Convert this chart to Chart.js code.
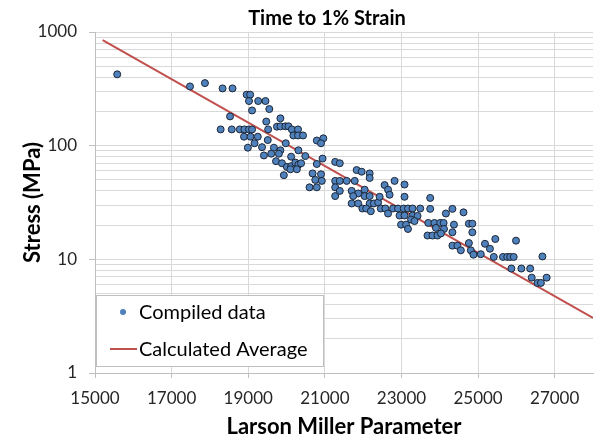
<!DOCTYPE html>
<html>
<head>
<meta charset="utf-8">
<script src="https://cdn.jsdelivr.net/npm/chart.js@4.4.1/dist/chart.umd.min.js"></script>
<style>
  html, body { margin: 0; padding: 0; background: #fff; }
  canvas { display: block; }
</style>
</head>
<body>
<canvas id="myChart" width="598" height="439"></canvas>
<script>
// scatter points (Larson Miller Parameter, Stress MPa)
const lmpValues = [
  15580, 17480, 17870, 18330, 18590, 18960, 19050, 19020, 19260, 19450,
  19550, 19100, 18525, 19470, 19750, 18280, 18570, 18780, 18900, 19020,
  19100, 19520, 18890, 19060, 19250, 19510, 19165, 19360, 18990, 19670,
  19410, 19600, 19725,
  19840, 19840, 19970, 20050, 20140, 20300, 20180, 20300, 20430, 19840,
  19980, 19800, 19880, 20010, 20120, 20230, 20310, 20120, 20100, 20270,
  20380, 20490, 19930, 20310, 20790, 20960, 20900, 20940, 20790, 20680,
  20900, 20750, 20600, 20790, 20920, 21270, 21390, 21270, 21390, 21570,
  21270, 21270, 21390, 21830, 21960, 22170, 22170, 21780, 21700, 21870,
  21740, 22040, 21700, 21870, 22040, 22170, 22170, 22560, 22650, 22690,
  22820,
  21980, 22080, 22200, 22280, 22390, 22430, 23080, 23080, 22460, 22580,
  22780, 22910, 23060, 23170, 23290, 23490, 22650, 22950, 23080, 23290,
  23420, 23250, 23340, 22990, 23120, 23170, 23750, 23750, 23700, 23860,
  24010, 24100, 23900, 24110, 23680, 23810, 23940, 24030, 24370, 24330,
  24160, 24330, 24620, 24760, 24850, 24850, 24330, 24460, 24550, 24760,
  24810, 24880, 25070, 25180, 25310, 25410, 25450,
  25650, 25760, 25840, 25930, 25870, 26130, 26360, 25990, 26400, 26550,
  26640, 26790, 26680
];
const stressValues = [
  424, 332, 355, 319, 319, 281, 281, 247, 247, 247,
  210, 204, 181, 163, 147, 139, 139, 139, 139, 139,
  139, 139, 120, 120, 120, 112, 105, 97, 96, 96,
  82, 85, 73,
  174, 148, 148, 148, 139, 139, 123, 123, 123, 91,
  105, 85, 70, 65, 66, 71, 68, 80, 62, 62,
  70, 81, 55, 91, 111, 116, 105, 77, 69, 57,
  56, 50, 43, 43, 49, 72, 70, 49, 49, 49,
  43, 36, 40, 61, 59, 57, 52, 49, 40, 38,
  36, 41, 31, 31, 36, 36, 31, 45, 41, 37,
  49,
  28, 28, 26.5, 31, 31.7, 35.5, 45.5, 35.5, 28, 28,
  28, 28, 28, 28, 28, 28, 25.3, 24.3, 24.3, 24.3,
  24.1, 22.4, 21.7, 20.2, 20.2, 18.5, 34.7, 27.8, 20.9, 20.9,
  20.9, 20.9, 18.9, 18.5, 16.2, 16.2, 16.2, 16.9, 20.2, 17.3,
  25.3, 27.8, 25.9, 20.6, 20.6, 17.3, 13.2, 13.2, 12.0, 13.9,
  12.0, 11.0, 11.1, 13.7, 12.4, 10.5, 15.1,
  10.5, 10.5, 10.5, 10.5, 8.3, 8.3, 8.3, 14.6, 6.9, 6.2,
  6.2, 6.9, 10.6
];

// calculated average line end points
const avgLmp = [15200, 28000];
const avgStress = [850, 3.06];

const xTickValues = [15000, 17000, 19000, 21000, 23000, 25000, 27000];
const yGridValues = [1, 2, 3, 4, 5, 6, 7, 8, 9, 10, 20, 30, 40, 50, 60, 70, 80, 90,
  100, 200, 300, 400, 500, 600, 700, 800, 900, 1000];
const yTickLabels = [1, 10, 100, 1000];

const FONT = "Lato, 'Open Sans', sans-serif";

const titlePlugin = {
  id: 'plainTitle',
  afterDraw(chart) {
    const c = chart.ctx;
    c.save();
    c.font = "bold 20px " + FONT;
    c.fillStyle = '#000';
    c.textAlign = 'center';
    c.textBaseline = 'middle';
    c.fillText('Time to 1% Strain', 327, 19);
    c.restore();
  }
};

const boxLegend = {
  id: 'boxLegend',
  afterDraw(chart) {
    const c = chart.ctx;
    const ds = chart.data.datasets;
    c.save();
    c.fillStyle = '#fff';
    c.strokeStyle = '#bfbfbf';
    c.lineWidth = 1;
    c.fillRect(96, 295, 227, 71);
    c.strokeRect(96.5, 295.5, 227, 71);
    c.font = "20px " + FONT;
    c.textBaseline = 'middle';
    // scatter entry
    c.beginPath();
    c.arc(123, 312, 3, 0, Math.PI * 2);
    c.fillStyle = ds[0].backgroundColor;
    c.fill();
    c.fillStyle = '#000';
    c.fillText(ds[0].label, 139, 313);
    // line entry
    c.beginPath();
    c.moveTo(110, 349);
    c.lineTo(137, 349);
    c.strokeStyle = ds[1].borderColor;
    c.lineWidth = 2;
    c.stroke();
    c.fillText(ds[1].label, 139, 350);
    c.restore();
  }
};

const ctx = document.getElementById('myChart').getContext('2d');
const myChart = new Chart(ctx, {
  type: 'scatter',
  data: {
    datasets: [
      {
        label: 'Compiled data',
        data: lmpValues.map((x, i) => ({ x: x, y: stressValues[i] })),
        backgroundColor: '#4f81bd',
        borderColor: '#1c2636',
        borderWidth: 1,
        pointRadius: 3.5,
        order: 1
      },
      {
        label: 'Calculated Average',
        type: 'line',
        data: avgLmp.map((x, i) => ({ x: x, y: avgStress[i] })),
        borderColor: '#c0504d',
        borderWidth: 2,
        pointRadius: 0,
        fill: false,
        order: 2
      }
    ]
  },
  options: {
    responsive: false,
    animation: false,
    devicePixelRatio: 1,
    layout: { padding: { top: 32, right: 3, left: 0, bottom: 0 } },
    plugins: {
      legend: { display: false },
      title: { display: false },
      tooltip: { enabled: false }
    },
    scales: {
      x: {
        type: 'linear',
        min: 15000,
        max: 28000,
        afterBuildTicks: (s) => { s.ticks = xTickValues.map(v => ({ value: v })); },
        afterFit: (s) => { s.height = 66; },
        ticks: {
          callback: (v) => String(v),
          color: '#262626',
          font: { family: FONT, size: 17 },
          padding: 10,
          maxRotation: 0
        },
        grid: { color: '#d9d9d9', tickLength: 5, tickColor: '#bfbfbf' },
        border: { color: '#bfbfbf' },
        title: {
          display: true,
          text: 'Larson Miller Parameter',
          color: '#000',
          font: { family: FONT, size: 22, weight: 'bold', lineHeight: 1.1 },
          padding: { top: 0, bottom: 0 }
        }
      },
      y: {
        type: 'logarithmic',
        min: 1,
        max: 1000,
        afterBuildTicks: (s) => { s.ticks = yGridValues.map(v => ({ value: v })); },
        afterFit: (s) => { s.width = 95; },
        ticks: {
          autoSkip: false,
          callback: (v) => yTickLabels.includes(v) ? String(v) : '',
          color: '#262626',
          font: { family: FONT, size: 17 },
          padding: 12
        },
        grid: {
          color: '#d9d9d9',
          tickLength: 6,
          tickColor: (c) => (c.tick && yTickLabels.includes(c.tick.value)) ? '#bfbfbf' : 'rgba(0,0,0,0)'
        },
        border: { color: '#bfbfbf' },
        title: {
          display: true,
          text: 'Stress (MPa)',
          color: '#000',
          font: { family: FONT, size: 22, weight: 'bold', lineHeight: 1.2 },
          padding: { top: 20, bottom: 0 }
        }
      }
    }
  },
  plugins: [titlePlugin, boxLegend]
});
</script>
</body>
</html>
